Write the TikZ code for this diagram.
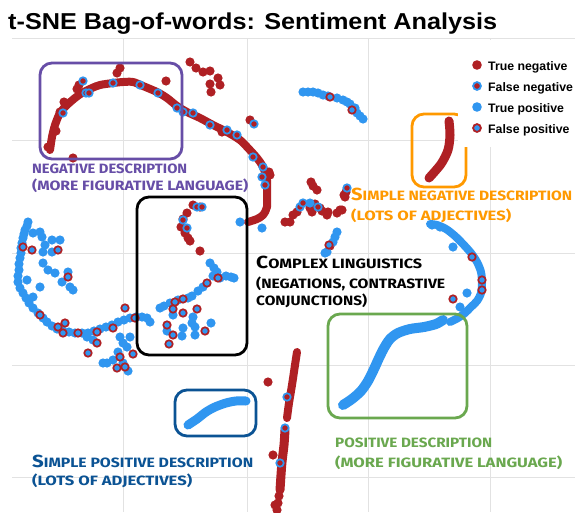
\documentclass[tikz,border=0pt]{standalone}
\usepackage{fontspec}
\usepackage{graphicx}
\setmainfont{Liberation Sans}
\newfontfamily\hand{Fira Sans}
\definecolor{tnred}{RGB}{175,32,36}
\definecolor{tpblue}{RGB}{48,150,240}
\definecolor{purplec}{RGB}{103,78,167}
\definecolor{orangec}{RGB}{255,153,0}
\definecolor{greenc}{RGB}{106,168,79}
\definecolor{dblue}{RGB}{11,83,148}
\definecolor{gridc}{RGB}{226,226,226}
\newcommand\TNdots[1]{\foreach \x/\y in {#1} \fill[tnred] (\x,\y) circle[radius=4.6pt];}
\newcommand\TPdots[1]{\foreach \x/\y in {#1} \fill[tpblue] (\x,\y) circle[radius=4.6pt];}
\newcommand\FNdots[1]{\foreach \x/\y in {#1} \filldraw[fill=tnred,draw=tpblue,line width=1.7pt] (\x,\y) circle[radius=3.75pt];}
\newcommand\FPdots[1]{\foreach \x/\y in {#1} \filldraw[fill=tpblue,draw=tnred,line width=1.7pt] (\x,\y) circle[radius=3.75pt];}
\newcommand\bigc[1]{{\fontsize{17.5}{17.5}\selectfont #1}}
\newcommand\fitw[2]{\resizebox{#1pt}{\height}{#2}}
\tikzset{
  gridline/.style={draw=gridc, line width=1pt},
  redstroke/.style={draw=tnred, line width=9pt, line cap=round, line join=round},
  bluestroke/.style={draw=tpblue, line width=9pt, line cap=round, line join=round},
  annbox/.style={line width=2.8pt, rounded corners=12pt},
  ann/.style={anchor=base west, inner sep=0pt, font=\hand\bfseries\fontsize{13.5}{13.5}\selectfont},
  legtext/.style={anchor=base west, inner sep=0pt, font=\bfseries\fontsize{12.3}{12.3}\selectfont}
}
\begin{document}
\begin{tikzpicture}[x=1pt,y=-1pt]
\useasboundingbox (0,0) rectangle (575,512);
\clip (0,0) rectangle (575,512);
\fill[white] (0,0) rectangle (575,512);
% grid
\foreach \gx in {123,247,368,490} \draw[gridline] (\gx,38) -- (\gx,512);
\foreach \gy in {38,140,253,365,477} \draw[gridline] (12,\gy) -- (575,\gy);
% title
\node[anchor=base west, inner sep=0pt, font=\bfseries\fontsize{23}{23}\selectfont] (title) at (8,29) {\fitw{489}{t-SNE Bag-of-words: Sentiment Analysis}};

% ---- dense strokes
\draw[redstroke, line width=8pt] plot[smooth] coordinates {(50,150) (52,137) (55,125) (60,113) (67,105) (75,98) (82,93) (92,88) (100,85) (113,83) (123,82) (133,82) (143,86) (157,92) (167,98) (177,106) (187,112) (200,118) (213,125) (227,132) (240,140) (248,148) (257,158) (263,167) (267,180) (267,193) (267,207) (263,215) (257,219) (248,222)};
\draw[redstroke] plot[smooth] coordinates {(449,121) (450,135) (448,150) (441,164) (429,178)};
\draw[bluestroke, line width=10pt] plot[smooth] coordinates {(343,405) (352,399) (361,391) (368,381) (374,369) (379,358) (384,348) (390,339) (398,333) (410,329) (424,327) (436,324) (443,320)};
\draw[bluestroke, line width=8pt] plot[smooth] coordinates {(450,322) (458,318) (465,313) (471,307) (477,301) (481,293) (482,283) (481,272) (477,262) (471,253) (463,244) (455,236) (446,229) (437,225) (430,224)};
\draw[bluestroke] plot[smooth] coordinates {(188,425) (197,419) (206,412) (215,407) (226,403) (236,401) (246,401)};
\draw[redstroke, line width=8pt] plot[smooth] coordinates {(297,352) (295,365) (292,385) (289,403) (287,418)};
\draw[redstroke] plot[smooth] coordinates {(285,430) (284,445) (282,462) (281,475) (280,490)};

% ---- scattered dots
\TNdots{120/68, 117/73, 166/81, 190/62, 196/68, 203/72, 210/71, 218/78, 210/84, 220/85, 211/92, 73/158, 79/85, 77/89, 64/102, 60/112, 48/147, 56/131, 250/120, 222/132, 270/175, 269/172,
 193/205, 200/207, 187/213, 183/219, 181/227, 185/233, 188/238, 190/241, 200/251,
 311/182, 313/186, 317/190, 345/197, 344/195, 346/192, 342/210, 340/210, 337/213, 328/212, 327/215, 320/208, 310/208, 312/212, 297/212, 293/215, 285/222, 290/222, 315/204, 322/211,
 268/382, 273/455, 279/496, 278/503, 277/510, 275/505, 330/246}
\TPdots{303/92, 308/92, 313/92, 318/93, 323/95, 328/96, 337/98, 343/100, 347/102, 350/104, 355/108, 357/113, 360/116, 363/119,
 337/232, 335/237, 333/242, 327/252, 325/253, 310/203, 240/222, 262/228,
 453/247, 467/293, 460/307, 432/225, 440/227,
 28/222, 27/226, 25/230, 24/234, 23/238, 22/243, 21/248, 21/253, 20/258, 19/264, 19/270, 18/276, 18/282, 20/288, 23/293, 26/298, 29/303, 33/308, 38/313, 43/318, 47/322, 52/326, 57/329, 63/331, 69/332, 75/333, 82/333, 88/333, 94/331, 100/329, 106/327, 112/325, 118/322, 124/320, 130/318, 136/317, 142/317, 147/318, 150/322,
 40/232, 42/237, 45/245, 52/240, 60/240, 43/252, 52/252, 43/263, 48/270, 55/273, 68/272, 62/282, 70/287, 73/290, 40/287, 33/297, 27/280, 33/233,
 87/337, 93/340, 120/337, 130/337, 123/343, 118/352, 113/360, 123/363, 128/371, 103/363, 107/363, 127/347,
 210/263, 214/268, 217/272, 213/276, 220/278, 226/276, 231/277, 234/278, 198/291, 192/296, 188/298, 178/300, 170/303, 164/306, 160/308, 173/315, 193/317, 192/323, 195/327, 211/323, 183/328, 167/331, 182/336, 195/335, 203/287}
\FNdots{83/81, 86/93, 89/93, 63/113, 113/83, 140/85, 158/93, 177/108, 183/112, 193/113, 210/125, 227/130, 237/135, 254/124, 253/157, 263/167, 262/177, 265/185,
 183/220, 187/228, 197/207, 202/207, 347/188, 300/207, 303/203, 318/207, 287/397, 285/428, 280/463}
\FPdots{58/250, 32/250, 23/247, 68/277, 40/315, 58/327, 65/323, 63/333, 78/333, 97/332, 97/343, 88/353, 113/328, 120/357, 117/368, 125/367, 133/354, 125/308, 135/318,
 175/302, 173/309, 183/299, 183/313, 197/309, 167/325, 173/335, 169/344, 205/331, 207/283, 218/278,
 330/97, 352/110, 472/257, 482/280, 482/290, 453/299, 329/245}

% ---- annotation boxes
\draw[annbox, purplec] (40,63) rectangle (182,159);
\draw[annbox, black] (137,197) rectangle (247,355);
\draw[annbox, orangec] (412,114) rectangle (466,187);
\draw[annbox, greenc] (328,314) rectangle (467,418);
\draw[annbox, dblue] (175,390) rectangle (256,436);

% ---- annotation labels
\node[ann, text=purplec] (n1) at (32,173) {\fitw{155}{NEGATIVE DESCRIPTION}};
\node[ann, text=purplec] (n2) at (32,190) {\fitw{216}{(MORE FIGURATIVE LANGUAGE)}};
\node[ann, text=orangec] (o1) at (351,200) {\fitw{221}{\bigc{S}IMPLE NEGATIVE DESCRIPTION}};
\node[ann, text=orangec] (o2) at (351,220) {\fitw{160}{(LOTS OF ADJECTIVES)}};
\node[ann, text=black] (c1) at (256,268) {\fitw{166}{\bigc{C}OMPLEX LINGUISTICS}};
\node[ann, text=black] (c2) at (256,288) {\fitw{189}{(NEGATIONS, CONTRASTIVE}};
\node[ann, text=black] (c3) at (256,305) {\fitw{111}{CONJUNCTIONS)}};
\node[ann, text=greenc] (g1) at (335,447) {\fitw{157}{POSITIVE DESCRIPTION}};
\node[ann, text=greenc] (g2) at (335,467) {\fitw{227}{(MORE FIGURATIVE LANGUAGE)}};
\node[ann, text=dblue] (b1) at (32,467) {\fitw{221}{\bigc{S}IMPLE POSITIVE DESCRIPTION}};
\node[ann, text=dblue] (b2) at (32,485) {\fitw{160}{(LOTS OF ADJECTIVES)}};

% ---- legend
\fill[white] (458,40) rectangle (575,147);
\fill[tnred] (477,65) circle[radius=4.8pt];
\filldraw[fill=tnred,draw=tpblue,line width=1.8pt] (477,86) circle[radius=3.9pt];
\fill[tpblue] (477,107) circle[radius=4.8pt];
\filldraw[fill=tpblue,draw=tnred,line width=1.8pt] (477,128) circle[radius=3.9pt];
\node[legtext] (l1) at (488,70) {True negative};
\node[legtext] (l2) at (488,91) {False negative};
\node[legtext] (l3) at (488,112) {True positive};
\node[legtext] (l4) at (488,133) {False positive};
\end{tikzpicture}
\end{document}
